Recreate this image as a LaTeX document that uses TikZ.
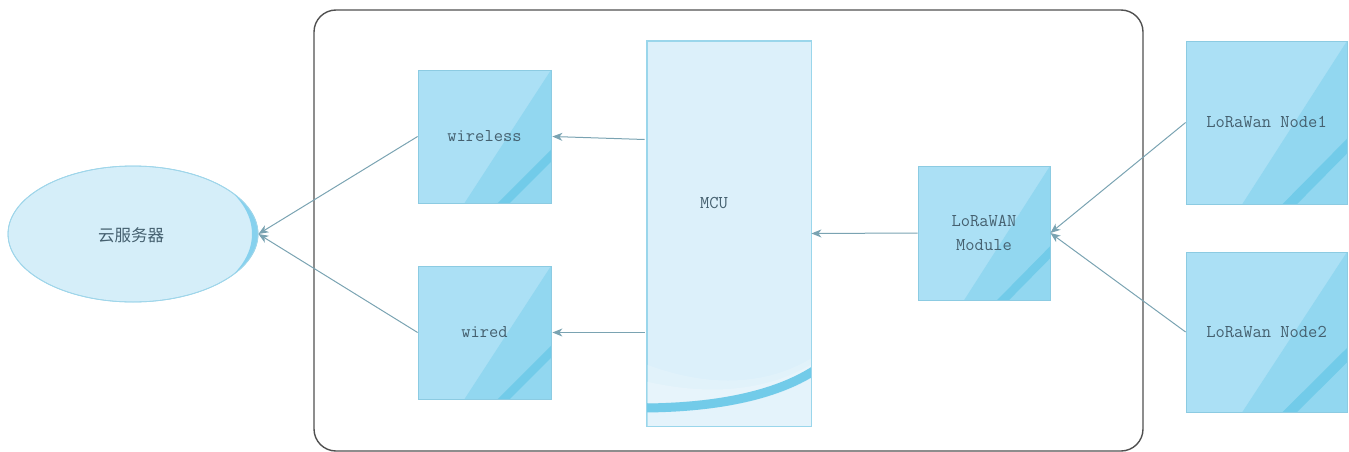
\documentclass[tikz,border=0pt]{standalone}
\usepackage{fontspec}
\newfontfamily\cjkfont{Noto Sans CJK SC}
\usetikzlibrary{arrows.meta,calc,shapes.geometric}
\definecolor{boxfill}{HTML}{ABE0F5}
\definecolor{boxdark}{HTML}{92D7F0}
\definecolor{boxstripe}{HTML}{72CBE9}
\definecolor{boxline}{HTML}{8CCBE2}
\definecolor{mcufill}{HTML}{DCF0FA}
\definecolor{mculine}{HTML}{9AD6EB}
\definecolor{ellfill}{HTML}{D5EEF9}
\definecolor{ellline}{HTML}{A0D6EA}
\definecolor{ellcres}{HTML}{86D1EE}
\definecolor{txt}{HTML}{45606F}
\definecolor{arrowc}{HTML}{7AA3B2}
\definecolor{frame}{HTML}{505050}
\tikzset{
  glossbox/.style={rectangle, draw=boxline, line width=0.8pt, fill=boxfill,
    inner sep=0pt, align=center, text=txt,
    font=\ttfamily\fontsize{18}{24}\selectfont,
    path picture={
      \path (path picture bounding box.south west) coordinate (ppA)
            (path picture bounding box.north east) coordinate (ppB);
      \fill[boxdark] (ppB) -- (ppA -| ppB) -- ($(ppA)!0.35!(ppA -| ppB)$) -- cycle;
      \fill[boxstripe] ($(ppB)!0.60!(ppA -| ppB)$) -- ($(ppB)!0.69!(ppA -| ppB)$)
          -- ($(ppA)!0.69!(ppA -| ppB)$) -- ($(ppA)!0.60!(ppA -| ppB)$) -- cycle;
    }},
  mcubox/.style={rectangle, draw=mculine, line width=0.8pt, fill=mcufill, inner sep=0pt},
  cloud/.style={ellipse, draw=ellline, line width=0.8pt, fill=ellfill, inner sep=0pt},
  arr/.style={draw=arrowc, line width=1pt, -{Stealth[length=10pt,width=8pt,inset=3pt]}},
  txtlabel/.style={text=txt, font=\ttfamily\fontsize{18}{24}\selectfont}
}
\begin{document}
\begin{tikzpicture}[x=1pt,y=-1pt]
\useasboundingbox (0,0) rectangle (1349,452);
\draw[frame, line width=1.4pt, rounded corners=22pt] (314,10) rectangle (1143,451);

% cloud
\node[cloud, minimum width=250pt, minimum height=136pt] (cloud) at (133,234) {};
\begin{scope}
  \clip (133,234) ellipse [x radius=125, y radius=68];
  \fill[ellcres, even odd rule] (133,234) ellipse [x radius=125, y radius=68]
     (130,234) ellipse [x radius=122, y radius=76];
\end{scope}
\draw[ellline, line width=0.8pt] (133,234) ellipse [x radius=125, y radius=68];
\node[text=txt, font=\cjkfont\fontsize{16.5}{20}\selectfont] (cloudtext) at (131,235) {云服务器};

% boxes
\node[glossbox, minimum width=133pt, minimum height=133pt] (wireless) at (484.5,136.5) {wireless};
\node[glossbox, minimum width=133pt, minimum height=133pt] (wired) at (484.5,332.5) {wired};
\node[mcubox, minimum width=164pt, minimum height=385pt] (MCU) at (729,233.5) {};
\begin{scope}
  \clip (MCU.south west) rectangle (MCU.north east);
  \fill[white, opacity=0.15] (640,362) .. controls (720,394) and (780,380) .. (818,354) -- (818,366) .. controls (780,390) and (720,403) .. (640,403) -- cycle;
  \fill[white, opacity=0.2] (640,380) .. controls (720,400) and (780,386) .. (818,360) -- (818,366) .. controls (780,390) and (720,403) .. (640,403) -- cycle;
  \fill[white, opacity=0.25] (640,412) .. controls (720,412) and (780,400) .. (818,374) -- (818,430) -- (640,430) -- cycle;
  \draw[boxstripe, line width=9pt] (640,408) .. controls (720,408) and (780,394) .. (818,368);
\end{scope}
\draw[mculine, line width=0.8pt] (MCU.south west) rectangle (MCU.north east);
\node[txtlabel] (mcutext) at (714,203) {MCU};

\node[glossbox, minimum width=132pt, minimum height=134pt] (module) at (984,233) {LoRaWAN\\Module};
\node[glossbox, minimum width=161pt, minimum height=163pt] (node1) at (1266.5,122.5) {LoRaWan Node1};
\node[glossbox, minimum width=161pt, minimum height=160pt] (node2) at (1266.5,332) {LoRaWan Node2};

% connectors
\draw[arr] (wireless.west) -- (cloud.east);
\draw[arr] (wired.west) -- (cloud.east);
\draw[arr] ([xshift=-2pt,yshift=-3pt]MCU.west |- wireless.east) -- ([xshift=1pt]wireless.east);
\draw[arr] ([xshift=-2pt]MCU.west |- wired.east) -- ([xshift=1pt]wired.east);
\draw[arr] (module.west) -- (MCU.east);
\draw[arr] (node1.west) -- (module.east);
\draw[arr] (node2.west) -- (module.east);
\end{tikzpicture}
\end{document}
